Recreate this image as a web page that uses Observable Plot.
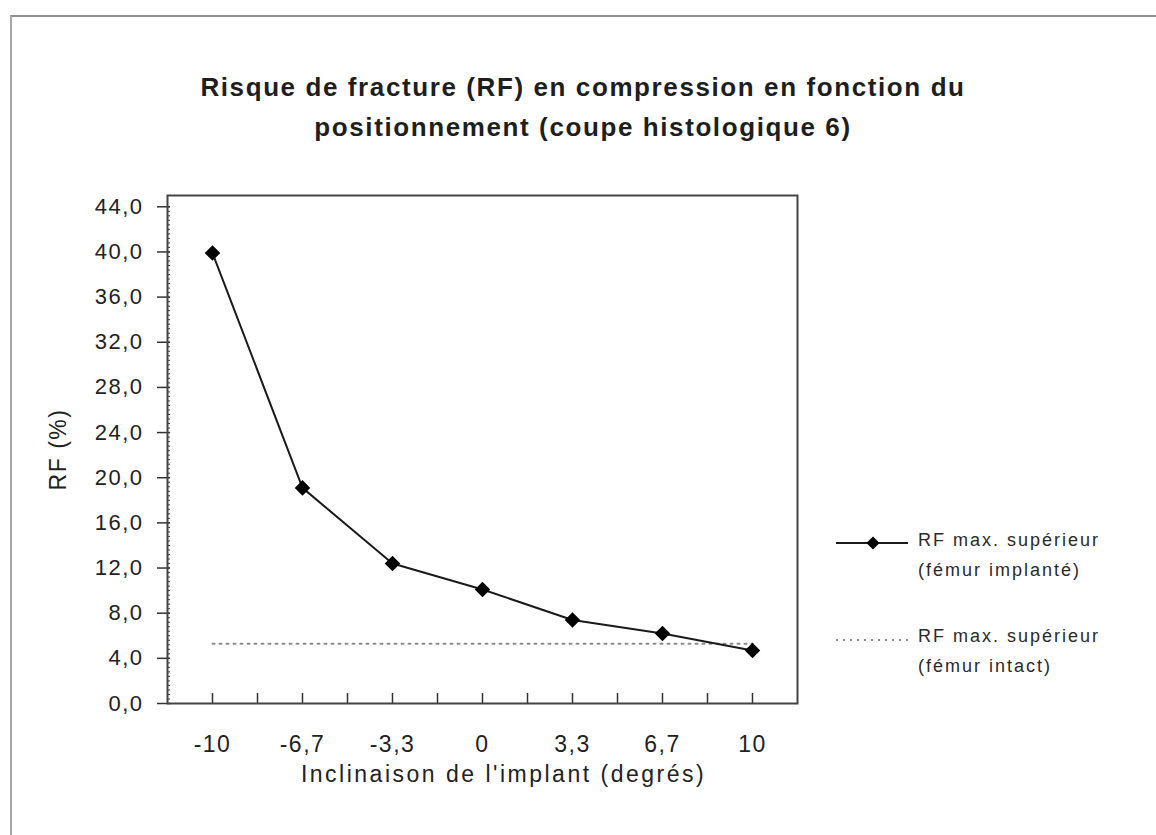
<!DOCTYPE html>
<html><head><meta charset="utf-8">
<script src="https://cdn.jsdelivr.net/npm/d3@7"></script>
<script src="https://cdn.jsdelivr.net/npm/@observablehq/plot@0.6"></script>
<style>
body{margin:0;background:#fff;font-family:"Liberation Sans",Arial,sans-serif;}
#wrap{position:relative;width:1156px;height:835px;overflow:hidden;background:#fff;}
#border{position:absolute;left:10px;top:15px;width:1300px;height:1000px;border-left:2px solid #a8a8a8;border-top:2px solid #909090;}
#title{position:absolute;left:0;width:1166px;top:67px;text-align:center;font-weight:bold;font-size:26px;line-height:40px;color:#1e1e1e;letter-spacing:1.6px;}
#chart{position:absolute;left:0;top:0;}
.leg{position:absolute;left:918px;font-size:18px;line-height:30px;color:#2a2a2a;letter-spacing:2px;}
#legsvg{position:absolute;left:0;top:0;}
</style>
</head><body>
<div id="wrap">
  <div id="border"></div>
  <div id="chart"></div>
  <div id="title"></div>
  <svg id="legsvg" width="1156" height="835"></svg>
  <div class="leg" id="leg1" style="top:525px"></div>
  <div class="leg" id="leg2" style="top:621px"></div>
</div>
<script>
const titleLines = ["Risque de fracture (RF) en compression en fonction du", "positionnement (coupe histologique 6)"];
const categories = ["-10", "-6,7", "-3,3", "0", "3,3", "6,7", "10"];
const implante = [39.9, 19.1, 12.4, 10.1, 7.4, 6.2, 4.7];
const intact = [5.3, 5.3, 5.3, 5.3, 5.3, 5.3, 5.3];
const yTicks = [0, 4, 8, 12, 16, 20, 24, 28, 32, 36, 40, 44];
const yTickLabels = ["0,0", "4,0", "8,0", "12,0", "16,0", "20,0", "24,0", "28,0", "32,0", "36,0", "40,0", "44,0"];
const xLabel = "Inclinaison de l'implant (degrés)";
const yLabel = "RF (%)";
const seriesNames = [["RF max. supérieur", "(fémur implanté)"], ["RF max. supérieur", "(fémur intact)"]];

const idx = categories.map((_, i) => i);
const xTickMarks = d3.range(0, 6.01, 0.5);
const yMinor = d3.range(0, 44.01, 0.4);

const plot = Plot.plot({
  width: 1156,
  height: 835,
  marginLeft: 167,
  marginRight: 359,
  marginTop: 195,
  marginBottom: 132,
  style: {fontFamily: "'Liberation Sans', Arial, sans-serif", fontSize: "22px", color: "#222", background: "transparent", letterSpacing: "1.5px"},
  x: {type: "linear", domain: [-0.5, 6.5]},
  y: {domain: [0, 45]},
  marks: [
    Plot.axisX(idx, {tickSize: 0, tickPadding: 32, tickFormat: i => categories[i], label: null, fontSize: 23}),
    Plot.axisY(yTicks, {tickSize: 0, tickPadding: 24, tickFormat: d => yTickLabels[yTicks.indexOf(d)], label: null, fontSize: 22}),
    Plot.ruleY(yMinor, {y: d => d, x1: -0.5, x2: -0.5, insetRight: -3, stroke: "#333", strokeWidth: 1}),
    Plot.ruleY(yTicks, {y: d => d, x1: -0.5, x2: -0.5, insetLeft: -10, insetRight: -3, stroke: "#333", strokeWidth: 1.5}),
    Plot.ruleX(xTickMarks, {x: d => d, y1: 0, y2: 0, insetTop: -10, stroke: "#333", strokeWidth: 1.5}),
    Plot.frame({stroke: "#444", strokeWidth: 2}),
    Plot.line(idx, {x: i => i, y: i => intact[i], stroke: "#8a8a8a", strokeWidth: 2, strokeDasharray: "2,5"}),
    Plot.line(idx, {x: i => i, y: i => implante[i], stroke: "#1a1a1a", strokeWidth: 2}),
    Plot.dot(idx, {x: i => i, y: i => implante[i], symbol: "diamond2", r: 7, fill: "#000", stroke: "none"}),
    Plot.text([xLabel], {frameAnchor: "bottom", textAnchor: "middle", dx: 21, dy: 78, fontSize: 23, fill: "#222"}),
    Plot.text([yLabel], {frameAnchor: "left", textAnchor: "middle", dx: -109, rotate: -90, fontSize: 23, fill: "#222"})
  ]
});
plot.querySelectorAll("text").forEach(t => {
  if (t.textContent === xLabel) t.style.letterSpacing = "2.5px";
});
document.getElementById("chart").appendChild(plot);
document.getElementById("title").innerHTML = titleLines.join("<br>");
document.getElementById("leg1").innerHTML = seriesNames[0].join("<br>");
document.getElementById("leg2").innerHTML = seriesNames[1].join("<br>");

// legend symbols
const leg = d3.select("#legsvg");
leg.append("line").attr("x1", 836).attr("x2", 908).attr("y1", 543).attr("y2", 543).attr("stroke", "#1a1a1a").attr("stroke-width", 2);
leg.append("path").attr("d", d3.symbol(d3.symbolDiamond2, 110)()).attr("transform", "translate(873,543)").attr("fill", "#000");
leg.append("line").attr("x1", 836).attr("x2", 908).attr("y1", 640).attr("y2", 640).attr("stroke", "#8a8a8a").attr("stroke-width", 2).attr("stroke-dasharray", "2,5");
</script>
</body></html>
